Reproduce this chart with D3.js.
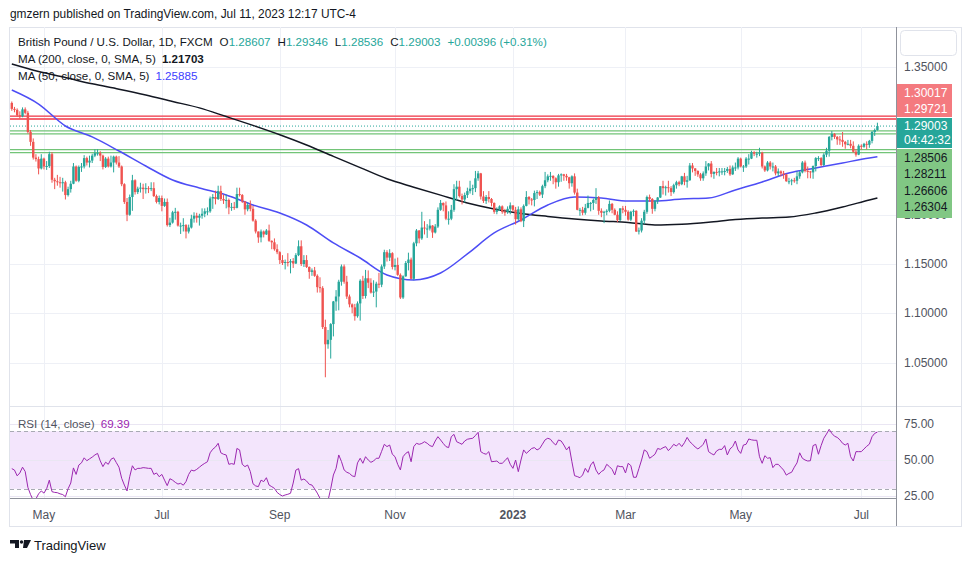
<!DOCTYPE html>
<html>
<head>
<meta charset="utf-8">
<script src="https://cdn.jsdelivr.net/npm/d3@7/dist/d3.min.js"></script>
<style>
html,body{margin:0;padding:0;background:#fff;}
svg{display:block;}
text{font-family:"Liberation Sans",Arial,sans-serif;}
</style>
</head>
<body>
<svg id="chart" width="970" height="563"></svg>
<script>
// ---------------- DATA ----------------
const firstDay = "2022-04-14";
const lastDay = "2023-07-11";

const opens = [
1.3135,1.3075,1.3065,1.3010,1.3000,1.3070,1.3035,1.2840,1.2740,1.2580,1.2565,1.2470,
1.2570,1.2490,1.2495,1.2615,1.2355,1.2340,1.2330,1.2320,1.2330,1.2200,1.2260,1.2315,1.2490,1.2345,1.2485,1.2490,1.2575,1.2530,1.2550,1.2600,1.2625,1.2625,
1.2600,1.2485,1.2570,1.2490,1.2530,1.2590,1.2530,1.2490,1.2310,1.2130,1.2000,1.2180,1.2350,1.2230,1.2265,1.2275,1.2260,1.2270,1.2265,1.2270,1.2190,1.2130,
1.2170,1.2090,1.2130,1.1895,1.1920,1.2025,1.2030,1.1890,1.1890,1.1895,1.1830,1.1870,1.1960,1.1990,1.1970,1.1990,1.2010,1.2035,1.2035,1.2165,1.2180,
1.2160,1.2240,1.2160,1.2145,1.2150,1.2075,1.2080,1.2070,1.2210,1.2200,1.2135,1.2055,1.2100,1.2060,1.1940,1.1830,1.1770,1.1830,1.1800,1.1840,1.1735,1.1720,1.1650,
1.1620,1.1540,1.1510,1.1520,1.1515,1.1530,1.1505,1.1590,1.1680,1.1500,1.1540,1.1470,1.1420,1.1435,1.1380,1.1265,1.1255,1.0860,1.0685,1.0730,1.0890,1.1120,
1.1170,1.1320,1.1475,1.1320,1.1170,1.1090,1.1060,1.0970,1.1100,1.1330,1.1175,1.1355,1.1310,1.1210,1.1220,1.1300,1.1290,1.1475,1.1620,1.1565,1.1610,
1.1470,1.1490,1.1390,1.1160,1.1375,1.1510,1.1545,1.1350,1.1710,1.1840,1.1760,1.1870,1.1860,1.1860,1.1890,1.1820,1.1880,1.2050,1.2120,1.2095,1.1960,1.1960,
1.2050,1.2260,1.2285,1.2190,1.2155,1.2200,1.2240,1.2265,1.2270,1.2370,1.2420,1.2185,1.2140,1.2180,1.2160,1.2120,1.2030,1.2050,1.2085,1.2030,1.2025,1.2060,
1.2095,1.2050,1.1955,1.2055,1.1935,1.2090,1.2180,1.2155,1.2150,1.2220,1.2230,1.2205,1.2290,1.2350,1.2390,1.2395,1.2370,1.2330,1.2400,1.2410,1.2395,1.2380,
1.2320,1.2390,1.2225,1.2050,1.2050,1.2020,1.2070,1.2120,1.2120,1.2150,1.2175,1.2040,1.2020,1.2030,1.2040,1.2110,1.2050,1.2000,1.1945,1.2065,
1.2050,1.2030,1.1950,1.2030,1.2040,1.1830,1.1840,1.1940,1.2030,1.2180,1.2160,1.2060,1.2140,1.2175,1.2290,1.2270,1.2280,1.2270,1.2230,1.2300,1.2330,1.2310,1.2390,
1.2335,1.2350,1.2500,1.2470,1.2445,1.2410,1.2370,1.2420,1.2490,1.2520,1.2415,1.2435,1.2430,1.2440,1.2440,1.2445,1.2465,1.2410,1.2480,1.2480,
1.2570,1.2490,1.2490,1.2570,1.2570,1.2635,1.2620,1.2620,1.2630,1.2490,1.2450,1.2530,1.2490,1.2490,1.2420,1.2440,1.2420,1.2410,1.2340,1.2340,1.2350,1.2345,1.2390,
1.2430,1.2530,1.2445,1.2440,1.2430,1.2495,1.2575,1.2575,1.2505,1.2610,1.2650,1.2790,1.2820,1.2790,1.2765,1.2760,1.2740,1.2715,1.2720,1.2700,1.2640,1.2610,
1.2700,1.2690,1.2720,1.2710,1.2750,1.2840,1.28607
];
const highs = [
1.3150,1.3095,1.3080,1.3050,1.3090,1.3090,1.3055,1.2860,1.2775,1.2615,1.2590,1.2615,
1.2580,1.2545,1.2640,1.2635,1.2375,1.2405,1.2385,1.2375,1.2345,1.2285,1.2345,1.2525,1.2500,1.2500,1.2525,1.2605,1.2590,1.2600,1.2620,1.2665,1.2665,1.2645,
1.2610,1.2585,1.2590,1.2600,1.2600,1.2600,1.2595,1.2500,1.2320,1.2170,1.2205,1.2405,1.2360,1.2285,1.2325,1.2315,1.2320,1.2290,1.2330,1.2330,1.2205,1.2195,
1.2195,1.2165,1.2165,1.1970,1.2040,1.2070,1.2040,1.1920,1.1965,1.1905,1.1900,1.2000,1.2025,1.2020,1.2010,1.2065,1.2065,1.2075,1.2185,1.2210,1.2245,
1.2295,1.2295,1.2205,1.2205,1.2165,1.2120,1.2130,1.2275,1.2275,1.2210,1.2140,1.2125,1.2145,1.2090,1.1955,1.1830,1.1850,1.1840,1.1855,1.1900,1.1740,1.1760,1.1700,
1.1630,1.1590,1.1545,1.1610,1.1550,1.1560,1.1610,1.1740,1.1740,1.1590,1.1590,1.1475,1.1455,1.1470,1.1395,1.1365,1.1275,1.0935,1.0830,1.0900,1.1125,1.1235,
1.1340,1.1495,1.1495,1.1380,1.1190,1.1100,1.1095,1.1120,1.1345,1.1380,1.1440,1.1435,1.1355,1.1335,1.1320,1.1410,1.1495,1.1645,1.1640,1.1650,1.1620,
1.1555,1.1565,1.1405,1.1385,1.1530,1.1615,1.1565,1.1725,1.1855,1.1845,1.2030,1.1935,1.1905,1.1955,1.1895,1.1905,1.2075,1.2150,1.2125,1.2135,1.2035,1.2100,
1.2310,1.2345,1.2345,1.2215,1.2225,1.2275,1.2345,1.2305,1.2445,1.2445,1.2425,1.2240,1.2200,1.2240,1.2170,1.2125,1.2075,1.2095,1.2095,1.2060,1.2085,1.2125,
1.2095,1.2080,1.2085,1.2075,1.2105,1.2240,1.2190,1.2170,1.2245,1.2250,1.2245,1.2305,1.2435,1.2410,1.2435,1.2400,1.2380,1.2415,1.2420,1.2415,1.2415,1.2385,
1.2400,1.2420,1.2265,1.2070,1.2080,1.2110,1.2195,1.2130,1.2165,1.2270,1.2190,1.2065,1.2040,1.2055,1.2145,1.2120,1.2065,1.2035,1.2065,1.2090,
1.2090,1.2045,1.2040,1.2055,1.2045,1.1870,1.1965,1.2050,1.2195,1.2205,1.2170,1.2150,1.2180,1.2290,1.2345,1.2295,1.2345,1.2290,1.2315,1.2345,1.2345,1.2395,1.2425,
1.2395,1.2525,1.2525,1.2475,1.2450,1.2425,1.2440,1.2545,1.2525,1.2545,1.2440,1.2475,1.2475,1.2475,1.2475,1.2485,1.2500,1.2500,1.2530,1.2585,
1.2580,1.2505,1.2585,1.2615,1.2650,1.2645,1.2640,1.2680,1.2640,1.2500,1.2545,1.2545,1.2530,1.2505,1.2470,1.2450,1.2445,1.2415,1.2375,1.2365,1.2375,1.2440,1.2445,
1.2545,1.2550,1.2490,1.2445,1.2500,1.2585,1.2595,1.2585,1.2625,1.2680,1.2800,1.2850,1.2830,1.2800,1.2800,1.2840,1.2750,1.2760,1.2760,1.2745,1.2665,1.2715,
1.2715,1.2730,1.2745,1.2760,1.2850,1.2875,1.29346
];
const lows = [
1.3055,1.3040,1.2995,1.2975,1.2990,1.3020,1.2825,1.2700,1.2560,1.2540,1.2410,1.2460,
1.2460,1.2455,1.2475,1.2325,1.2260,1.2295,1.2275,1.2235,1.2155,1.2185,1.2225,1.2310,1.2335,1.2330,1.2435,1.2470,1.2500,1.2480,1.2525,1.2585,1.2600,1.2545,
1.2460,1.2475,1.2480,1.2480,1.2430,1.2510,1.2475,1.2290,1.2110,1.1935,1.1990,1.2040,1.2205,1.2210,1.2225,1.2160,1.2215,1.2220,1.2240,1.2180,1.2115,1.2105,
1.2035,1.2080,1.1880,1.1875,1.1910,1.1950,1.1880,1.1805,1.1830,1.1760,1.1810,1.1860,1.1920,1.1920,1.1890,1.1960,1.1975,1.1995,1.2020,1.2060,1.2105,
1.2150,1.2140,1.2110,1.2065,1.2005,1.2040,1.2050,1.2065,1.2185,1.2120,1.2000,1.2035,1.2035,1.1930,1.1810,1.1715,1.1720,1.1770,1.1795,1.1725,1.1650,1.1635,1.1600,
1.1500,1.1490,1.1445,1.1475,1.1405,1.1460,1.1500,1.1580,1.1480,1.1470,1.1460,1.1350,1.1380,1.1370,1.1210,1.1210,1.0840,1.0350,1.0640,1.0540,1.0765,1.1025,
1.1030,1.1280,1.1300,1.1145,1.1060,1.1000,1.0925,1.0955,1.0925,1.1145,1.1150,1.1255,1.1200,1.1165,1.1060,1.1255,1.1265,1.1450,1.1525,1.1530,1.1445,
1.1435,1.1380,1.1145,1.1145,1.1370,1.1435,1.1345,1.1335,1.1680,1.1710,1.1745,1.1800,1.1765,1.1840,1.1765,1.1810,1.1865,1.2040,1.2035,1.1945,1.1900,1.1945,
1.2030,1.2145,1.2175,1.2105,1.2125,1.2170,1.2215,1.2200,1.2230,1.2345,1.2155,1.2120,1.2110,1.2125,1.2085,1.2010,1.2005,1.2040,1.2010,1.1990,1.2010,1.2005,
1.2030,1.1900,1.1940,1.1925,1.1875,1.2085,1.2105,1.2095,1.2085,1.2160,1.2190,1.2170,1.2270,1.2330,1.2345,1.2310,1.2265,1.2285,1.2335,1.2345,1.2345,1.2265,
1.2285,1.2205,1.2045,1.1990,1.1995,1.2000,1.2065,1.2035,1.2050,1.2110,1.2000,1.1975,1.1915,1.1995,1.2025,1.2015,1.1995,1.1925,1.1935,1.2015,
1.1990,1.1940,1.1935,1.1985,1.1825,1.1800,1.1820,1.1905,1.2010,1.2130,1.2010,1.2035,1.2110,1.2170,1.2205,1.2195,1.2225,1.2190,1.2215,1.2265,1.2290,1.2300,1.2300,
1.2275,1.2345,1.2430,1.2395,1.2385,1.2345,1.2345,1.2395,1.2450,1.2380,1.2365,1.2400,1.2390,1.2405,1.2400,1.2425,1.2395,1.2405,1.2445,1.2460,
1.2480,1.2435,1.2475,1.2510,1.2565,1.2595,1.2580,1.2595,1.2470,1.2435,1.2440,1.2460,1.2440,1.2400,1.2390,1.2390,1.2365,1.2335,1.2310,1.2300,1.2325,1.2310,1.2365,
1.2420,1.2430,1.2370,1.2370,1.2365,1.2440,1.2545,1.2490,1.2495,1.2585,1.2590,1.2755,1.2770,1.2710,1.2710,1.2690,1.2670,1.2705,1.2675,1.2630,1.2590,1.2605,
1.2660,1.2680,1.2665,1.2680,1.2725,1.2800,1.28536
];
const closes = [
1.3075,1.3065,1.3010,1.3000,1.3070,1.3035,1.2840,1.2740,1.2580,1.2565,1.2470,1.2570,
1.2490,1.2495,1.2615,1.2355,1.2340,1.2330,1.2320,1.2330,1.2200,1.2260,1.2315,1.2490,1.2345,1.2485,1.2490,1.2575,1.2530,1.2550,1.2600,1.2625,1.2625,1.2600,
1.2485,1.2570,1.2490,1.2530,1.2590,1.2530,1.2490,1.2310,1.2130,1.2000,1.2180,1.2350,1.2230,1.2265,1.2275,1.2260,1.2270,1.2265,1.2270,1.2190,1.2130,1.2170,
1.2090,1.2130,1.1895,1.1920,1.2025,1.2030,1.1890,1.1890,1.1895,1.1830,1.1870,1.1960,1.1990,1.1970,1.1990,1.2010,1.2035,1.2035,1.2165,1.2180,1.2160,
1.2240,1.2160,1.2145,1.2150,1.2075,1.2080,1.2070,1.2210,1.2200,1.2135,1.2055,1.2100,1.2060,1.1940,1.1830,1.1770,1.1830,1.1800,1.1840,1.1735,1.1720,1.1650,1.1620,
1.1540,1.1510,1.1520,1.1515,1.1530,1.1505,1.1590,1.1680,1.1500,1.1540,1.1470,1.1420,1.1435,1.1380,1.1265,1.1255,1.0860,1.0685,1.0730,1.0890,1.1120,1.1170,
1.1320,1.1475,1.1320,1.1170,1.1090,1.1060,1.0970,1.1100,1.1330,1.1175,1.1355,1.1310,1.1210,1.1220,1.1300,1.1290,1.1475,1.1620,1.1565,1.1610,1.1470,
1.1490,1.1390,1.1160,1.1375,1.1510,1.1545,1.1350,1.1710,1.1840,1.1760,1.1870,1.1860,1.1860,1.1890,1.1820,1.1880,1.2050,1.2120,1.2095,1.1960,1.1960,1.2050,
1.2260,1.2285,1.2190,1.2155,1.2200,1.2240,1.2265,1.2270,1.2370,1.2420,1.2185,1.2140,1.2180,1.2160,1.2120,1.2030,1.2050,1.2085,1.2030,1.2025,1.2060,1.2095,
1.2050,1.1955,1.2055,1.1935,1.2090,1.2180,1.2155,1.2150,1.2220,1.2230,1.2205,1.2290,1.2350,1.2390,1.2395,1.2370,1.2330,1.2400,1.2410,1.2395,1.2380,1.2320,
1.2390,1.2225,1.2050,1.2050,1.2020,1.2070,1.2120,1.2120,1.2150,1.2175,1.2040,1.2020,1.2030,1.2040,1.2110,1.2050,1.2000,1.1945,1.2065,1.2050,
1.2030,1.1950,1.2030,1.2040,1.1830,1.1840,1.1940,1.2030,1.2180,1.2160,1.2060,1.2140,1.2175,1.2290,1.2270,1.2280,1.2270,1.2230,1.2300,1.2330,1.2310,1.2390,1.2335,
1.2350,1.2500,1.2470,1.2445,1.2410,1.2370,1.2420,1.2490,1.2520,1.2415,1.2435,1.2430,1.2440,1.2440,1.2445,1.2465,1.2410,1.2480,1.2480,1.2570,
1.2490,1.2490,1.2570,1.2570,1.2635,1.2620,1.2620,1.2630,1.2490,1.2450,1.2530,1.2490,1.2490,1.2420,1.2440,1.2420,1.2410,1.2340,1.2340,1.2350,1.2345,1.2390,1.2430,
1.2530,1.2445,1.2440,1.2430,1.2495,1.2575,1.2575,1.2505,1.2610,1.2650,1.2790,1.2820,1.2790,1.2765,1.2760,1.2740,1.2715,1.2720,1.2700,1.2640,1.2610,1.2700,
1.2690,1.2720,1.2710,1.2750,1.2840,1.2860,1.29003
];

// moving averages at these bar positions
const maIdx = [0,10,20,30,40,50,60,70,80,90,100,110,120,130,140,150,160,170,180,190,200,210,220,230,240,250,260,270,280,290,300,310,320,323];
const ma50 = [1.3266,1.3124,1.2901,1.2790,1.2647,1.2495,1.2353,1.2272,1.2201,1.2099,1.2018,1.1896,1.1714,1.1561,1.1389,1.1338,1.1409,1.1602,1.1815,1.1947,1.2099,1.2180,1.2170,1.2140,1.2140,1.2160,1.2170,1.2252,1.2333,1.2424,1.2475,1.2526,1.2576,1.25885];
const ma200 = [1.3530,1.3454,1.3393,1.3329,1.3275,1.3216,1.3150,1.3085,1.2997,1.2907,1.2812,1.2708,1.2593,1.2479,1.2365,1.2280,1.2199,1.2120,1.2059,1.2013,1.1983,1.1957,1.1937,1.1922,1.1896,1.1904,1.1924,1.1951,1.1967,1.1977,1.2018,1.2079,1.2150,1.21703];

const rsi = [
44,43,39,41,45,42,31,26,22,23,26.5,28.5,
27,30,36,28,27.5,27.3,26.5,26,24.5,30,34,44.5,40,46.5,48,51.5,49.5,50.8,52,53.5,54.6,49.4,
45.4,48.5,47,50.5,51.5,48.2,45,37.3,32.6,28.5,38.4,46,43.1,44.2,44.2,44.7,44.5,44.2,44.2,40,41,38.4,
40,36,32.2,37,36,34.5,33.3,33.8,32.5,35,40,43,42.4,43.5,45,46.5,47.7,48.8,55,57.5,59,
61.6,55,54,53.5,47,47.5,47,58,57,47,45.4,46.5,42,33.5,32,31.5,36,35,37.7,32.6,31.5,30.3,27.5,
26,25,25.7,26.2,26.9,34,43,44,36,36.8,35.4,33.1,32.6,30,27,23.4,17,15,22,30,39.6,44.2,
53.5,49,43.1,41.5,40.7,39,38.4,48,51.2,47.7,52.3,50,48.4,49.3,51.2,51.2,56,60.9,59.3,60.4,54,
52.3,47,43.1,52.3,54.6,55.8,48.8,59.3,61.6,60.9,61.5,62.7,61.6,60,59.3,63.2,66.2,63.9,61.5,59.3,58.6,66.2,
67.8,62.7,61.8,60.9,63.2,64.4,64.8,65.1,67,69.2,55.8,54.6,54,55.8,48.8,49,49.3,47.7,47.7,49.5,51.6,47,
44.2,50,41.9,50,57,54.6,56.3,58,58.6,57,58,61,64,65.1,64.4,62,60.4,63.9,63.2,60.4,57,59.3,
48.8,39.1,38.5,37.7,39.6,44.2,41.4,46.5,48.8,43,40,42,43.1,47,45.4,43.5,39.6,46,45.4,45.4,
41,47.7,46.1,38,38,44,50,57,55.8,51.2,52.5,54,58,57.4,58.5,59.3,56.5,58.5,60.9,59.7,61.6,59.3,62,
65.7,62.7,61,59,57.7,59,60.9,64.6,55.8,54.5,53.5,56.3,57.4,57.4,60,53.5,57.7,59.3,63.2,57,
54.6,60.4,60.9,64.6,64,63.7,63.7,52.3,47.7,53,51.2,51.6,44.7,47,47,45,43,39.5,40.7,41.5,45,48,55,
51.2,50,49.3,49.5,60,60.9,54,60,65.1,68,71.3,68.5,66.5,65.7,64,61.6,60.4,61.6,52.3,49.3,55.8,55.8,
55.8,57.7,59.5,61,66.2,68.5,69.39
];

// price ticks visible on the axis (1.30000 and 1.25000 are hidden under the level labels)
const priceTicks = [1.05, 1.10, 1.15, 1.20, 1.35];
const priceGrid = [1.05, 1.10, 1.15, 1.20, 1.25, 1.30, 1.35];
const rsiTicks = [25, 50, 75];
const rsiBand = [30, 70];
const timeTickDates = ["2022-05-02","2022-07-01","2022-09-01","2022-11-01","2023-01-02","2023-03-01","2023-05-01","2023-07-03"];
const timeTickLabels = ["May","Jul","Sep","Nov","2023","Mar","May","Jul"];

const resistLevels = [1.30017, 1.29721];
const supportLevels = [1.28506, 1.28211, 1.26606, 1.26304];
const lastPrice = 1.29003;
const countdown = "04:42:32";
const lastRsi = 69.39;
const legendOHLC = [["O","1.28607"],["H","1.29346"],["L","1.28536"],["C","1.29003"],["","+0.00396 (+0.31%)"]];

// ---------------- DRAWING ----------------
const parse = d3.timeParse("%Y-%m-%d");
const fmt = d3.timeFormat("%Y-%m-%d");
const days = d3.timeDay.range(parse(firstDay), d3.timeDay.offset(parse(lastDay), 1))
  .filter(d => d.getDay() !== 0 && d.getDay() !== 6);
if (days.length !== closes.length) console.error("length mismatch", days.length, closes.length);

const svg = d3.select("#chart");
const PL = 10, PR = 896, PT = 27, PB = 405, RT = 407, RB = 498, AB = 526;
const UP = "#26a69a", DOWN = "#ef5350", FS = 11.6;

const x = d3.scaleLinear().domain([0, closes.length - 1]).range([11.8, 877.4]);
const y = d3.scaleLinear().domain([1.05, 1.35]).range([362.5, 67]);
const yr = d3.scaleLinear().domain([25, 75]).range([496, 424]);

const defs = svg.append("defs");
defs.append("clipPath").attr("id", "clipP").append("rect")
  .attr("x", PL).attr("y", PT).attr("width", PR - PL).attr("height", PB - PT);
defs.append("clipPath").attr("id", "clipR").append("rect")
  .attr("x", PL).attr("y", RT).attr("width", PR - PL).attr("height", RB - RT);

// header
svg.append("text").attr("x", 10).attr("y", 18).attr("font-size", 11.9).attr("fill", "#131722")
  .text("gmzern published on TradingView.com, Jul 11, 2023 12:17 UTC-4");

// frame
svg.append("rect").attr("x", 9.5).attr("y", 27.5).attr("width", 952).attr("height", AB - 27)
  .attr("fill", "none").attr("stroke", "#e0e3eb");

// grid
const tickIdx = timeTickDates.map(s => days.findIndex(d => fmt(d) === s));
const grid = svg.append("g").attr("stroke", "#eef0f6").attr("stroke-width", 1);
grid.selectAll("line.v").data(tickIdx).join("line")
  .attr("x1", d => Math.round(x(d)) + 0.5).attr("x2", d => Math.round(x(d)) + 0.5)
  .attr("y1", PT).attr("y2", RB);
grid.selectAll("line.h").data(priceGrid).join("line")
  .attr("x1", PL).attr("x2", PR)
  .attr("y1", d => Math.round(y(d)) + 0.5).attr("y2", d => Math.round(y(d)) + 0.5);

// RSI band and grid
svg.append("rect").attr("x", PL).attr("width", PR - PL)
  .attr("y", yr(rsiBand[1])).attr("height", yr(rsiBand[0]) - yr(rsiBand[1]))
  .attr("fill", "#f3e5fc");
svg.append("g").selectAll("line").data(rsiTicks).join("line")
  .attr("x1", PL).attr("x2", PR)
  .attr("y1", d => Math.round(yr(d)) + 0.5).attr("y2", d => Math.round(yr(d)) + 0.5)
  .attr("stroke", "#eae6f3");
svg.append("g").selectAll("line").data(rsiBand).join("line")
  .attr("x1", PL).attr("x2", PR)
  .attr("y1", d => Math.round(yr(d)) + 0.5).attr("y2", d => Math.round(yr(d)) + 0.5)
  .attr("stroke", "#a8aab3").attr("stroke-dasharray", "4,3");

// level lines
const lv = svg.append("g").attr("clip-path", "url(#clipP)");
lv.selectAll("line.r").data(resistLevels).join("line")
  .attr("x1", PL).attr("x2", PR).attr("y1", d => y(d)).attr("y2", d => y(d))
  .attr("stroke", "#f23645").attr("stroke-width", 1.3);
lv.selectAll("line.s").data(supportLevels).join("line")
  .attr("x1", PL).attr("x2", PR).attr("y1", d => y(d)).attr("y2", d => y(d))
  .attr("stroke", "#72c477").attr("stroke-width", 1.3);
lv.append("line").attr("x1", PL).attr("x2", PR).attr("y1", y(lastPrice)).attr("y2", y(lastPrice))
  .attr("stroke", UP).attr("stroke-dasharray", "1,2").attr("stroke-width", 1);

// moving averages
const maLine = vals => d3.line().x((d, k) => x(maIdx[k])).y(d => y(d)).curve(d3.curveMonotoneX)(vals);
const maG = svg.append("g").attr("clip-path", "url(#clipP)");
maG.append("path").attr("d", maLine(ma200)).attr("fill", "none").attr("stroke", "#131722").attr("stroke-width", 1.5);
maG.append("path").attr("d", maLine(ma50)).attr("fill", "none").attr("stroke", "#4d4df5").attr("stroke-width", 1.5);

// candles
const cg = svg.append("g").attr("clip-path", "url(#clipP)");
const idx = d3.range(closes.length);
cg.selectAll("rect.w").data(idx).join("rect")
  .attr("x", i => x(i) - 0.5).attr("width", 1)
  .attr("y", i => y(highs[i])).attr("height", i => Math.max(1, y(lows[i]) - y(highs[i])))
  .attr("fill", i => closes[i] >= opens[i] ? UP : DOWN);
cg.selectAll("rect.b").data(idx).join("rect")
  .attr("x", i => x(i) - 1.2).attr("width", 2.4)
  .attr("y", i => y(Math.max(opens[i], closes[i])))
  .attr("height", i => Math.max(1, Math.abs(y(opens[i]) - y(closes[i]))))
  .attr("fill", i => closes[i] >= opens[i] ? UP : DOWN);

// RSI line
svg.append("path").attr("clip-path", "url(#clipR)")
  .attr("d", d3.line().x((d, i) => x(i)).y(d => yr(d))(rsi))
  .attr("fill", "none").attr("stroke", "#9c27b0").attr("stroke-width", 1);

// separators / axes borders
svg.append("line").attr("x1", PL).attr("x2", 962).attr("y1", 406.5).attr("y2", 406.5).attr("stroke", "#e0e3eb");
svg.append("line").attr("x1", PL).attr("x2", PR).attr("y1", RB + 0.5).attr("y2", RB + 0.5).attr("stroke", "#8f929b");
svg.append("line").attr("x1", PR + 0.5).attr("x2", PR + 0.5).attr("y1", PT).attr("y2", AB).attr("stroke", "#8f929b");

// legend (segments flow left to right)
const leg = svg.append("g").attr("font-size", FS).attr("fill", "#131722");
function flow(yPos, parts, x0) {
  let cx = x0;
  parts.forEach(p => {
    const t = leg.append("text").attr("x", cx).attr("y", yPos).attr("font-weight", p.bold ? "bold" : "normal");
    if (p.key) t.append("tspan").attr("fill", "#131722").text(p.key);
    t.append("tspan").attr("fill", p.color || "#131722").text(p.text);
    cx += t.node().getComputedTextLength() + (p.gap || 7);
  });
}
flow(46, [{text: "British Pound / U.S. Dollar, 1D, FXCM", gap: 7}]
  .concat(legendOHLC.map(([k, v]) => ({key: k, text: v, color: UP, gap: 7}))), 18);
flow(63, [{text: "MA (200, close, 0, SMA, 5)", gap: 6}, {text: d3.format(".5f")(ma200[ma200.length - 1]), bold: true}], 18);
flow(80, [{text: "MA (50, close, 0, SMA, 5)", gap: 6}, {text: d3.format(".5f")(ma50[ma50.length - 1]), color: "#3d3dff"}], 18);
flow(428, [{text: "RSI (14, close)", color: "#50535e", gap: 6}, {text: d3.format(".2f")(lastRsi), color: "#9c27b0"}], 18);

// price axis labels
const ax = svg.append("g").attr("font-size", 12).attr("fill", "#50535e");
ax.selectAll("text.p").data(priceTicks).join("text")
  .attr("x", 904).attr("y", d => y(d) + 4).text(d => d3.format(".5f")(d));
ax.selectAll("text.r").data(rsiTicks).join("text")
  .attr("x", 904).attr("y", d => yr(d) + 4).text(d => d3.format(".2f")(d));

// time axis labels
svg.append("g").attr("font-size", 12).attr("fill", "#50535e").attr("text-anchor", "middle")
  .selectAll("text").data(tickIdx).join("text")
  .attr("x", d => x(d)).attr("y", 519)
  .attr("font-weight", (d, k) => timeTickLabels[k] === "2023" ? "bold" : "normal")
  .text((d, k) => timeTickLabels[k]);

// top-right empty button
svg.append("rect").attr("x", 900.5).attr("y", 30.5).attr("width", 56).attr("height", 25).attr("rx", 4)
  .attr("fill", "#fff").attr("stroke", "#e0e3eb");

// colored price labels
const BX = 897, BW = 55;
function box(y0, y1, color) {
  svg.append("rect").attr("x", BX).attr("y", y0).attr("width", BW).attr("height", y1 - y0).attr("fill", color);
}
box(84, 117, "#f47a7f");
box(118, 148, UP);
box(149, 218, "#81c784");
const labG = svg.append("g").attr("font-size", 12);
const redY = [93, 109], greenY = [158, 174, 191, 207];
resistLevels.forEach((v, k) => labG.append("text").attr("x", 904).attr("y", redY[k] + 4).attr("fill", "#fff").text(d3.format(".5f")(v)));
labG.append("text").attr("x", 904).attr("y", 130).attr("fill", "#fff").text(d3.format(".5f")(lastPrice));
labG.append("text").attr("x", 904).attr("y", 144).attr("fill", "#fff").text(countdown);
supportLevels.forEach((v, k) => labG.append("text").attr("x", 904).attr("y", greenY[k] + 4).attr("fill", "#131722").text(d3.format(".5f")(v)));

// bottom logo
const logo = svg.append("g").attr("fill", "#131722");
logo.append("path").attr("d", "M10,540 H19 V548 H15 V543.5 H10 Z");
logo.append("circle").attr("cx", 21.5).attr("cy", 542).attr("r", 1.7);
logo.append("path").attr("d", "M24,540 H31 L27,548 H23 Z");
svg.append("text").attr("x", 34).attr("y", 550).attr("font-size", 13).attr("fill", "#131722").text("TradingView");
</script>
</body>
</html>
